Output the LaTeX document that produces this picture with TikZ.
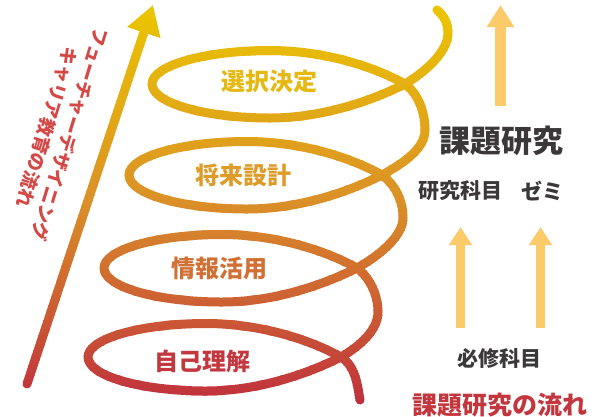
\documentclass[tikz,border=0pt]{standalone}
\usepackage{fontspec}
\newfontfamily\jp{Noto Sans CJK JP}
\usetikzlibrary{arrows.meta}
\definecolor{labA}{RGB}{230,184,18}
\definecolor{labB}{RGB}{221,156,42}
\definecolor{labC}{RGB}{208,112,52}
\definecolor{labD}{RGB}{194,56,62}
\definecolor{darktext}{RGB}{60,56,57}
\definecolor{redtext}{RGB}{196,54,62}
\definecolor{sidetext}{RGB}{212,72,70}
\definecolor{lightarrow}{RGB}{251,203,106}
\def\coilpath{(360,400) .. controls (357,382) and (355,366) .. (341,357)
 .. controls (303,336) and (253,323.5) .. (206,323.5) .. controls (141,323.5) and (88,338.5) .. (88,357)
 .. controls (88,376) and (141,391) .. (206,391) .. controls (253,391) and (301,377) .. (341,357)
 .. controls (360,346) and (378,330) .. (378,312) .. controls (378,294) and (369,277) .. (357,268)
 .. controls (319,247) and (269,234.5) .. (222,234.5) .. controls (157,234.5) and (104,249.5) .. (104,268)
 .. controls (104,287) and (157,302) .. (222,302) .. controls (269,302) and (317,288) .. (357,268)
 .. controls (377,257) and (403,237) .. (403,218) .. controls (403,199) and (394,184) .. (382,175)
 .. controls (344,154) and (294,141.5) .. (247,141.5) .. controls (182,141.5) and (129,156.5) .. (129,175)
 .. controls (129,194) and (182,209) .. (247,209) .. controls (294,209) and (342,195) .. (382,175)
 .. controls (400,165) and (425,150) .. (425,130) .. controls (425,110) and (417,93) .. (405,84)
 .. controls (367,63) and (317,50.5) .. (270,50.5) .. controls (205,50.5) and (152,65.5) .. (152,84)
 .. controls (152,103) and (205,118) .. (270,118) .. controls (317,118) and (365,104) .. (405,84)
 .. controls (425,72) and (448,52) .. (448,33) .. controls (448,22) and (443,15) .. (437,10)}
\begin{document}
\begin{tikzpicture}[x=1pt,y=-1pt,
  coil/.style={line width=9pt, line cap=round, line join=round},
  bigarrow/.style={line width=9pt, line cap=round, -{Triangle[length=29pt,width=33pt]}},
  fatup/.style={draw=lightarrow, line width=11pt, -{Triangle[length=22pt,width=26pt]}},
  thinup/.style={draw=lightarrow, line width=9.5pt, -{Triangle[length=18pt,width=22pt]}},
  loopl/.style={font=\jp\bfseries\fontsize{24}{24}\selectfont, inner sep=0pt},
  sidel/.style={font=\jp\bfseries\fontsize{21}{21}\selectfont, inner sep=0pt, text=darktext}]
\useasboundingbox (0,0) rectangle (604,416);
\coordinate (ftail) at (27,384);
\coordinate (ftip) at (153,5);
\foreach \i in {0,...,83}{
  \pgfmathsetmacro{\ya}{\i*5}
  \pgfmathsetmacro{\yb}{\ya+5.4}
  \pgfmathsetmacro{\ymid}{\ya+2.5}
  \pgfmathsetmacro{\tA}{min(\ymid,200)/200}
  \pgfmathsetmacro{\tB}{max(\ymid-200,0)/200}
  \pgfmathtruncatemacro{\colR}{236-17*\tA-27*\tB}
  \pgfmathtruncatemacro{\colG}{200-55*\tA-95*\tB}
  \pgfmathtruncatemacro{\colB}{40*\tA+22*\tB}
  \definecolor{bandc}{RGB}{\colR,\colG,\colB}
  \begin{scope}
    \clip (-5,\ya) rectangle (610,\yb);
    \draw[coil, draw=bandc] \coilpath;
    \draw[bigarrow, draw=bandc, fill=bandc] (ftail) -- (ftip);
  \end{scope}
}
% loop labels
\node[loopl, text=labA] (l1) at (269,81) {選択決定};
\node[loopl, text=labB] (l2) at (243,175) {将来設計};
\node[loopl, text=labC] (l3) at (219,268) {情報活用};
\node[loopl, text=labD] (l4) at (202.5,361) {自己理解};
% side text
\node[font=\jp\bfseries\fontsize{18.5}{24}\selectfont, text=sidetext, align=center, rotate=-107, inner sep=0pt] (flow) at (58.5,131) {フューチャーデザイニング\\キャリア教育の流れ};
% right column
\node[font=\jp\bfseries\fontsize{31}{31}\selectfont, inner sep=0pt, text=darktext] (kadai) at (501,141) {課題研究};
\node[sidel] (kenkyu) at (460,191) {研究科目};
\node[sidel] (zemi) at (542,191) {ゼミ};
\node[sidel] (hisshu) at (499,358) {必修科目};
\node[font=\jp\bfseries\fontsize{25}{25}\selectfont, inner sep=0pt, text=redtext] (title) at (499.5,405) {課題研究の流れ};
\coordinate (ta0) at (500.5,106);
\coordinate (ta1) at (500.5,5);
\coordinate (la0) at (460.5,328);
\coordinate (la1) at (460.5,227);
\coordinate (ra0) at (540.5,328);
\coordinate (ra1) at (540.5,227);
\draw[fatup] (ta0) -- (ta1);
\draw[thinup] (la0) -- (la1);
\draw[thinup] (ra0) -- (ra1);
\end{tikzpicture}
\end{document}
